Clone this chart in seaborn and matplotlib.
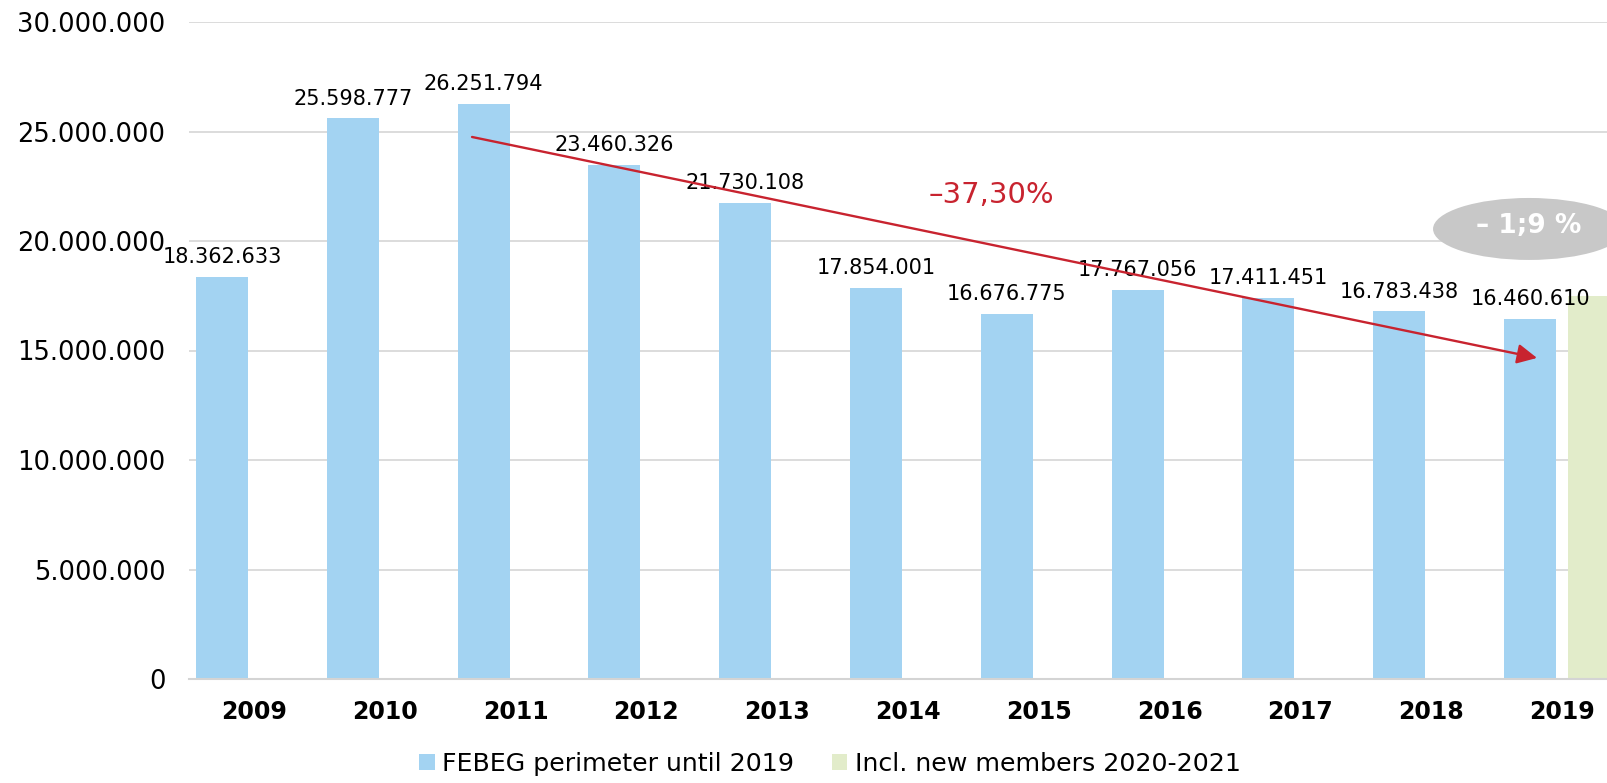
import matplotlib
matplotlib.use("Agg")
import matplotlib.pyplot as plt
from matplotlib.patches import Ellipse, Patch
import seaborn as sns
import pandas as pd

years = ["2009", "2010", "2011", "2012", "2013", "2014", "2015", "2016", "2017", "2018", "2019"]
febeg_values = [18362633, 25598777, 26251794, 23460326, 21730108, 17854001,
                16676775, 17767056, 17411451, 16783438, 16460610]
new_members_years = ["2019"]
new_members_values = [17490000]
series_names = ["FEBEG perimeter until 2019", "Incl. new members 2020-2021"]
y_ticks = [0, 5000000, 10000000, 15000000, 20000000, 25000000, 30000000]
trend_label = "–37,30%"
bubble_label = "– 1;9 %"

BLUE = "#a3d3f2"
GREEN = "#e2ecca"
RED = "#c8232f"
GRID = "#d9d9d9"

sns.set_theme(style="white")
plt.rcParams["font.family"] = ["DejaVu Sans"]
plt.rcParams["text.color"] = "#000000"

df = pd.DataFrame({
    "year": years + new_members_years,
    "value": febeg_values + new_members_values,
    "series": [series_names[0]] * len(years) + [series_names[1]] * len(new_members_years),
})

fig = plt.figure(figsize=(16.07, 7.83), dpi=100)
ax = fig.add_axes([189 / 1607, 1 - 679 / 783, 1 - 189 / 1607, (679 - 22) / 783])

sns.barplot(data=df, x="year", y="value", hue="series", order=years,
            hue_order=series_names, palette=[BLUE, GREEN], width=0.978, gap=0.187,
            saturation=1, legend=False, ax=ax, zorder=2, linewidth=0, edgecolor="none")

ax.set_xlim(-0.497, 10.344)
ax.set_ylim(0, 30000000)
ax.set_yticks(y_ticks)
ax.set_yticklabels([f"{v:,.0f}".replace(",", ".") for v in y_ticks], fontsize=18.5, color="#000000")
ax.set_xticks(range(len(years)))
ax.set_xticklabels(years, fontsize=17, fontweight="bold", color="#000000")
ax.tick_params(axis="y", length=0, pad=17)
ax.tick_params(axis="x", length=0, pad=15)
ax.set_xlabel("")
ax.set_ylabel("")
ax.yaxis.grid(True, color=GRID, lw=1.3, zorder=0)
ax.set_axisbelow(True)
for s in ["top", "right", "left"]:
    ax.spines[s].set_visible(False)
ax.spines["bottom"].set_color("#d4d4d4")
ax.spines["bottom"].set_linewidth(1.5)

# data labels on FEBEG bars
off = 0.978 / 4
for i, v in enumerate(febeg_values):
    ax.annotate(f"{v:,.0f}".replace(",", "."), xy=(i - off, v), xytext=(0, 7),
                textcoords="offset points", ha="center", va="bottom",
                fontsize=15, color="#000000", zorder=5)

# trend arrow
ax.annotate("", xy=(9.809, 14660000), xytext=(1.667, 24750000),
            arrowprops=dict(arrowstyle="-|>", color=RED, lw=1.7, mutation_scale=30,
                            shrinkA=0, shrinkB=0), zorder=6)
ax.text(5.64, 22100000, trend_label, color=RED, fontsize=21, ha="center", va="center", zorder=6)

# grey bubble
ell = Ellipse((9.748, 20550000), width=1.468, height=2830000, facecolor="#c8c8c8",
              edgecolor="none", clip_on=False, zorder=7)
ax.add_patch(ell)
ax.text(9.748, 20700000, bubble_label, color="white", fontsize=19, fontweight="bold",
        ha="center", va="center", zorder=8, clip_on=False)

handles = [Patch(facecolor=BLUE, edgecolor="none"), Patch(facecolor=GREEN, edgecolor="none")]
leg = fig.legend(handles, series_names, loc="center", bbox_to_anchor=(0.5166, 0.024),
                 ncol=2, frameon=False, fontsize=18.2, handlelength=0.6, handleheight=0.6,
                 handletextpad=0.3, columnspacing=1.5, borderaxespad=0, borderpad=0)
for t in leg.get_texts():
    t.set_color("#000000")

fig.savefig("out.png", dpi=100)
